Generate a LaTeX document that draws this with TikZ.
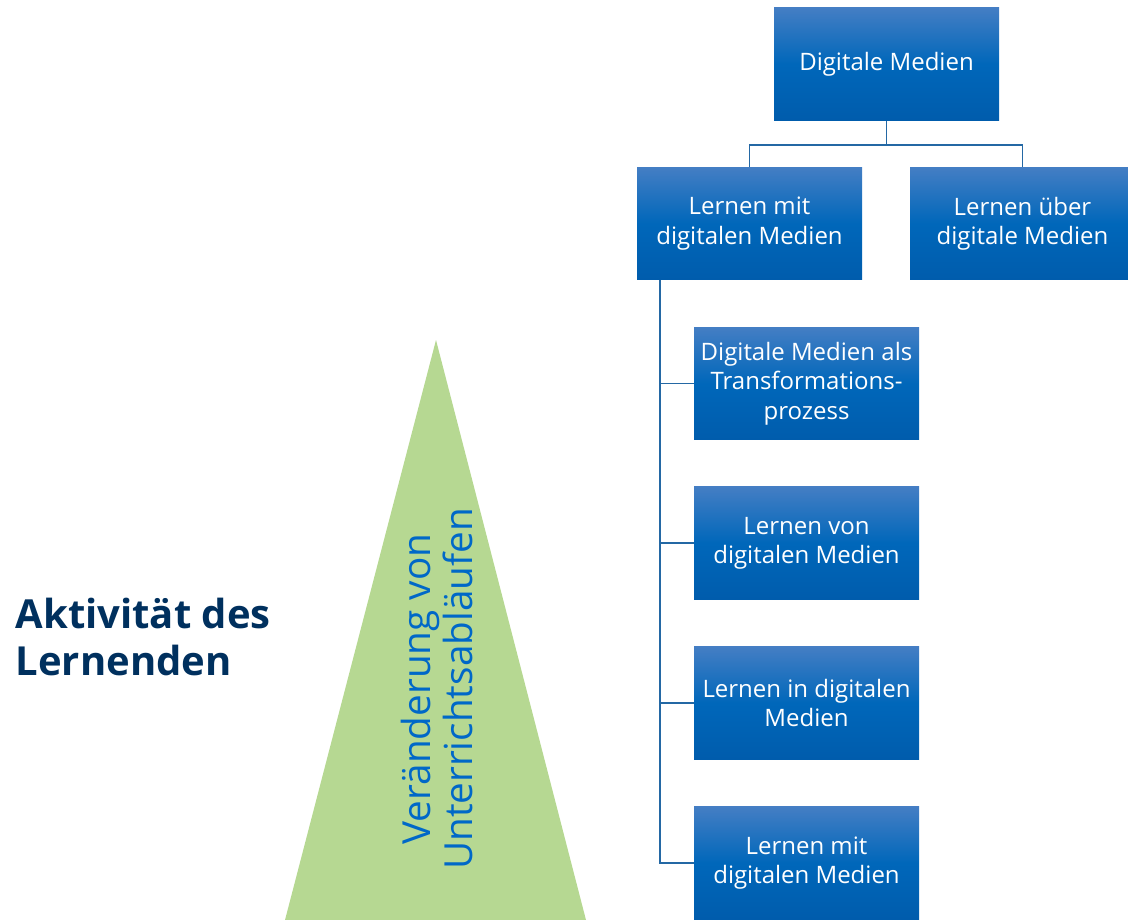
\documentclass[tikz,border=0pt]{standalone}
\usepackage{fontspec}
\setmainfont{Open Sans}
\usepackage{tikz}
\usepackage{xcolor}
\definecolor{boxtop}{RGB}{68,126,196}
\definecolor{boxmid}{RGB}{0,103,186}
\definecolor{boxbot}{RGB}{0,92,172}
\definecolor{linkblue}{RGB}{36,104,164}
\definecolor{navy}{RGB}{0,48,94}
\definecolor{leaf}{RGB}{182,216,146}
\definecolor{textblue}{RGB}{0,104,200}
\tikzset{
  medienbox/.style={
    rectangle, inner sep=0pt,
    minimum width=168.75pt, minimum height=84.5pt,
    top color=boxtop, bottom color=boxbot, middle color=boxmid,
    text=white, align=center,
    font=\fontsize{18}{22}\selectfont
  }}
\tikzset{
  link/.style={draw=linkblue, line width=1.1pt}
}

\begin{document}
\begin{tikzpicture}[x=0.75pt,y=-0.75pt]
    \useasboundingbox (0,0) rectangle (1128,920);
    % triangle
    \fill[leaf] (436,340) -- (586,920) -- (285,920) -- cycle;
    \node[rotate=90, align=center, text=textblue,
          font=\fontsize{29}{32}\selectfont] (wandel) at (437,689)
          {Veränderung von\\Unterrichtsabläufen};
    \node[anchor=west, align=left, text=navy,
          font=\bfseries\fontsize{30}{35}\selectfont] (aktiv) at (11,637)
          {Aktivität des\\Lernenden};
    % boxes
    \node[medienbox] (dm) at (886.5,64) {Digitale Medien};
    \node[medienbox] (lmit) at (749.5,223.5) {Lernen mit\\digitalen Medien};
    \node[medienbox] (luber) at (1022.5,223.5) {Lernen über\\digitale Medien};
    \node[medienbox] (trans) at (806.5,383.5) {Digitale Medien als\\Transformations-\\prozess};
    \node[medienbox] (lvon) at (806.5,543) {Lernen von\\digitalen Medien};
    \node[medienbox] (lin) at (806.5,703) {Lernen in digitalen\\Medien};
    \node[medienbox] (lmitb) at (806.5,863) {Lernen mit\\digitalen Medien};
    % connectors
    \coordinate (fork) at (886.5,145);
    \coordinate (spine) at (660,280);
    \draw[link] (dm.south) -- (fork);
    \draw[link] (fork) -| (lmit.north);
    \draw[link] (fork) -| (luber.north);
    \draw[link] (spine) |- (trans.west);
    \draw[link] (spine) |- (lvon.west);
    \draw[link] (spine) |- (lin.west);
    \draw[link] (spine) |- (lmitb.west);
\end{tikzpicture}
\end{document}
